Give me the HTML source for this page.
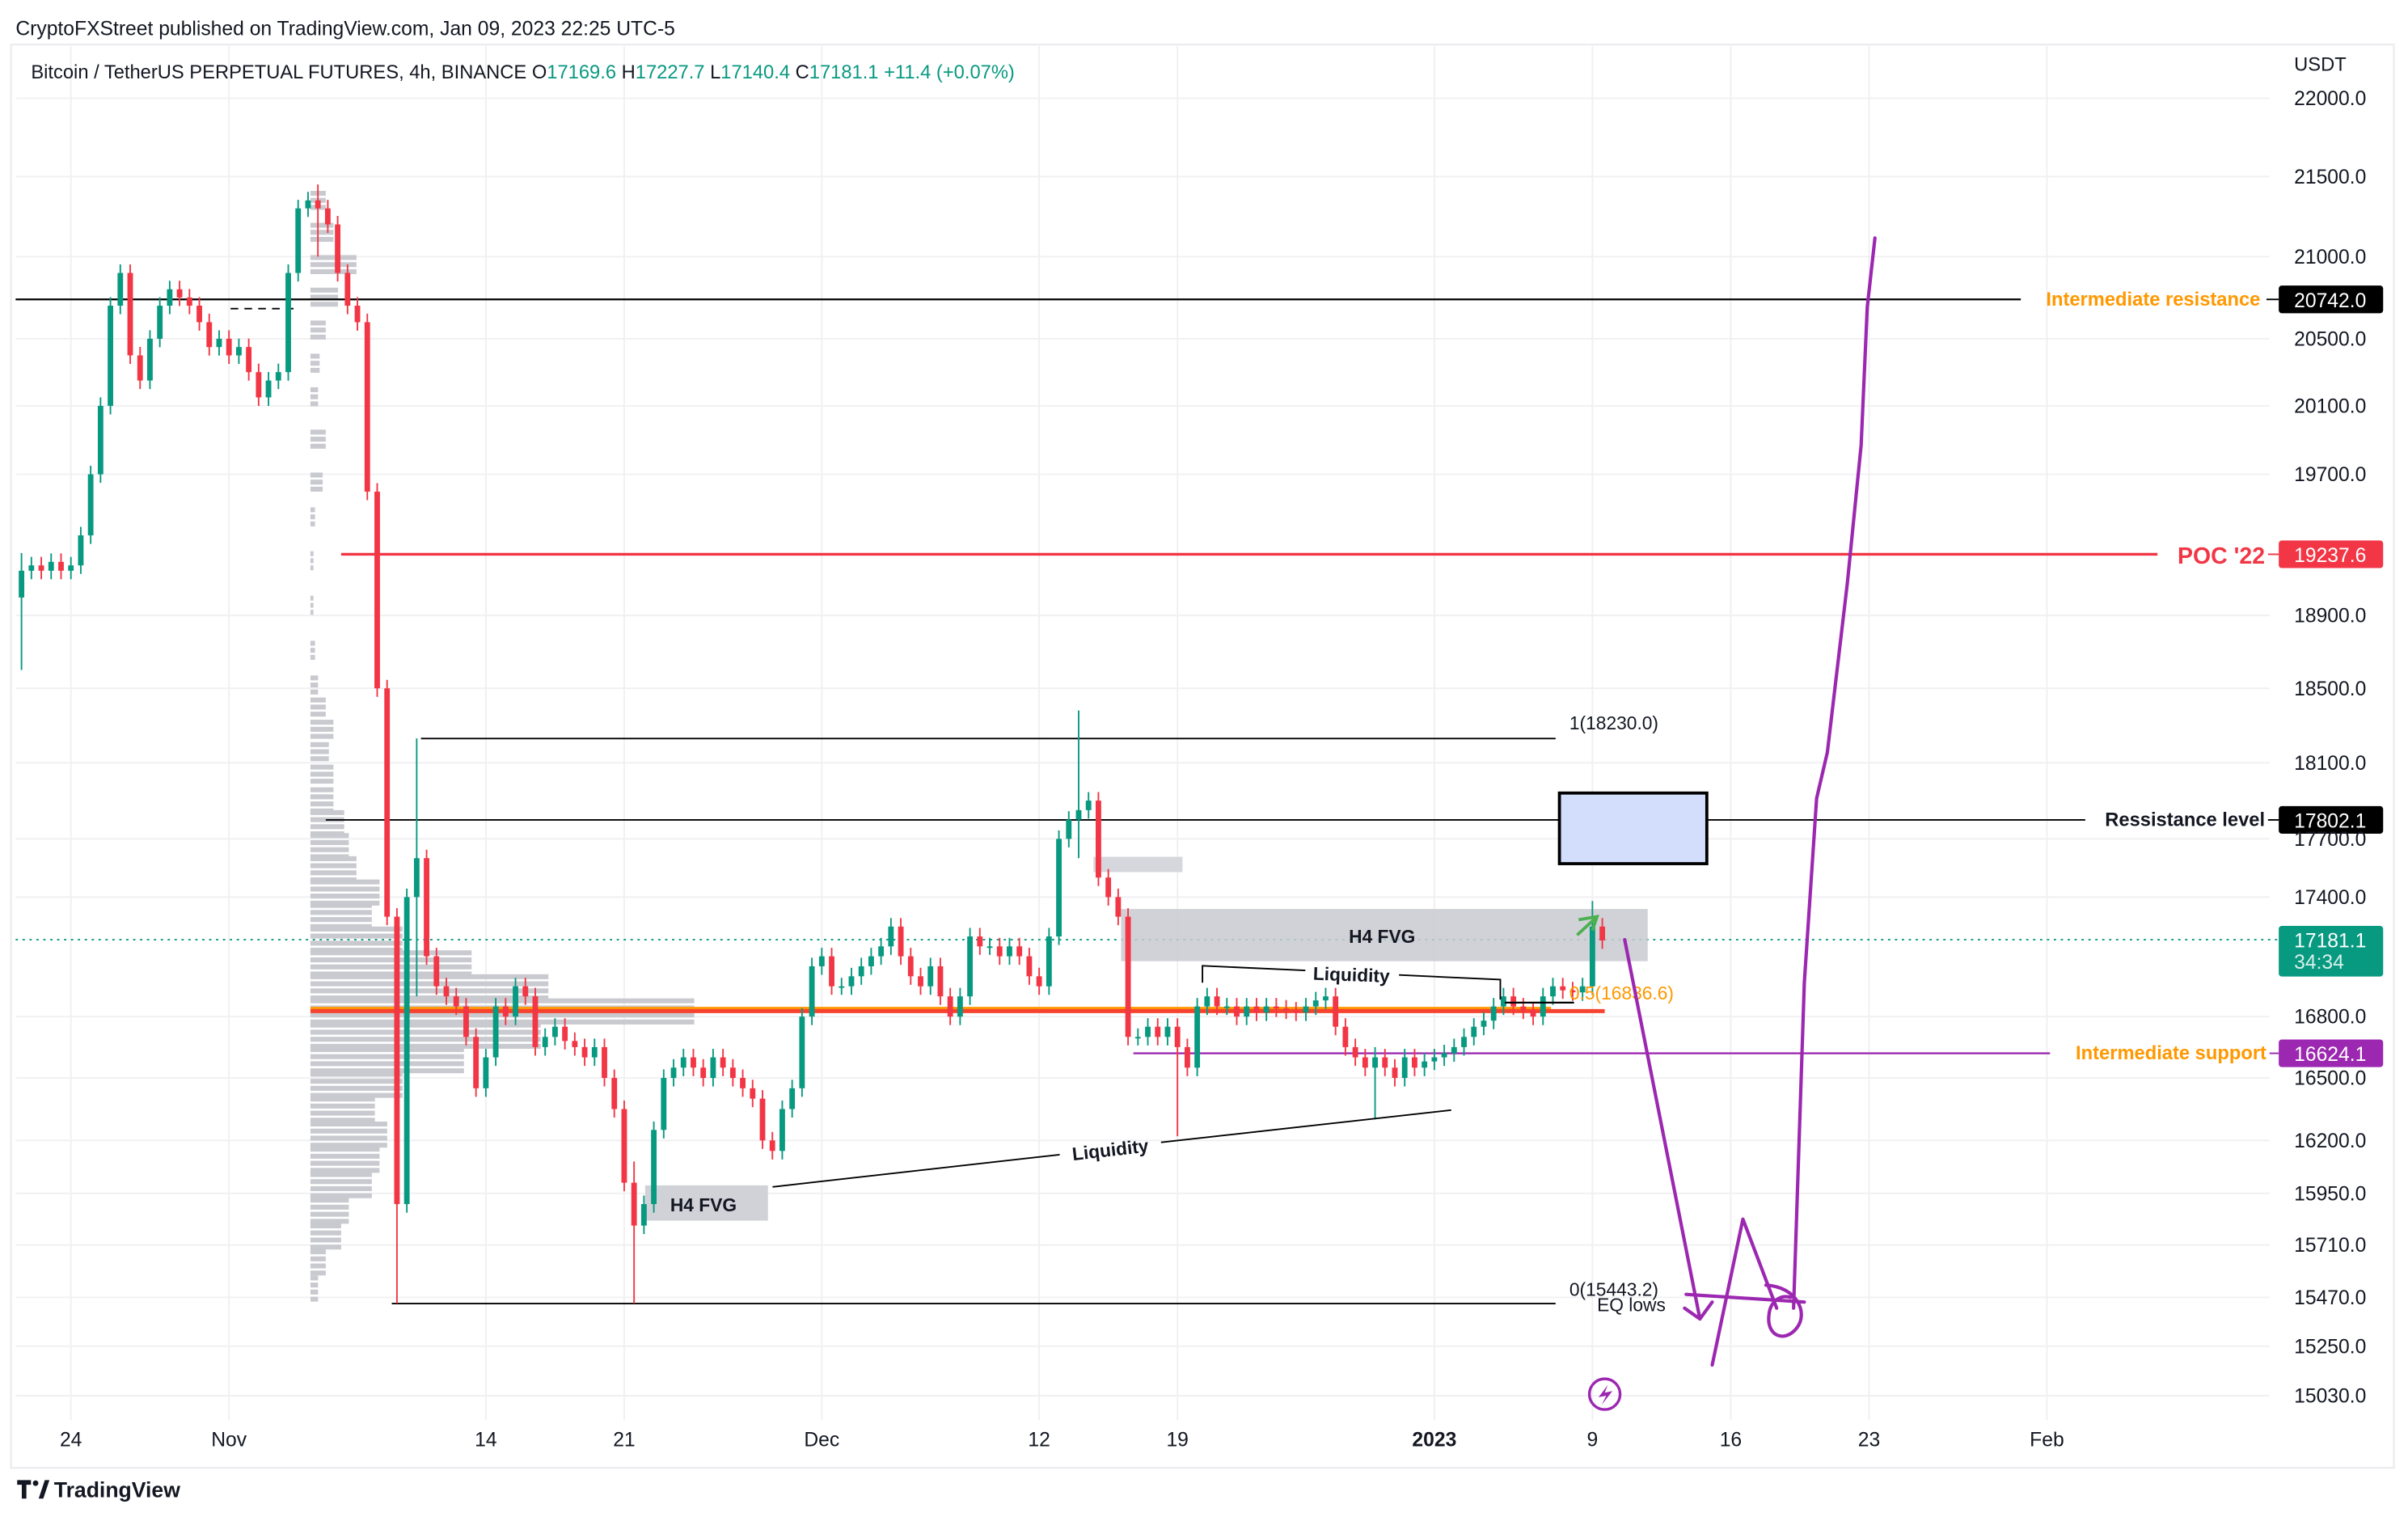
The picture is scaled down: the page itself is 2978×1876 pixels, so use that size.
<!DOCTYPE html>
<html><head><meta charset="utf-8"><style>
html,body{margin:0;padding:0;background:#fff;}
svg{display:block;font-family:"Liberation Sans",sans-serif;}
</style></head><body>
<svg id="chart" width="2978" height="1876" viewBox="0 0 1568 988" xmlns="http://www.w3.org/2000/svg">
<rect x="0" y="0" width="1568" height="988" fill="#fff"/>
<text x="10" y="23" font-size="13" fill="#131722">CryptoFXStreet published on TradingView.com, Jan 09, 2023 22:25 UTC-5</text>
<rect x="7" y="29" width="1552" height="927" fill="none" stroke="#ececf0" stroke-width="1.2"/>
<g id="grid"></g>
<g id="profile"></g>
<g id="levels"></g>
<g id="candles"></g>
<g id="annot"></g>
<g id="axis"></g>
<text x="20" y="51" font-size="12.5" fill="#131722">Bitcoin / TetherUS PERPETUAL FUTURES, 4h, BINANCE  O<tspan fill="#089981">17169.6</tspan>  H<tspan fill="#089981">17227.7</tspan>  L<tspan fill="#089981">17140.4</tspan>  C<tspan fill="#089981">17181.1  +11.4 (+0.07%)</tspan></text>
<g>
<path d="M11 964h9v3h-3v9h-3v-9h-3z" fill="#131722"/><circle cx="23" cy="966" r="1.8" fill="#131722"/><path d="M25 976l4-12h3l-4 12z" fill="#131722"/>
<text x="35" y="975" font-size="14" font-weight="bold" fill="#131722">TradingView</text></g>
</svg>
<script>
const NS='http://www.w3.org/2000/svg';
// ---- data ----
const closes=[19150,
19180,19150,19200,19150,19180,19350,19700,20100,20700,20900,20400,20250,20500,20700,20800,20750,20700,20600,20450,20500,
20400,20450,20300,20150,20250,20300,20900,21300,21350,21300,21200,20900,20700,20600,19600,18500,17300,15900,17400,17600,
17100,16950,16900,16850,16700,16450,16600,16850,16800,16950,16900,16650,16700,16750,16680,16650,16600,16650,16500,16350,
16000,15800,15900,16250,16500,16550,16600,16550,16500,16600,16550,16500,16450,16400,16200,16150,16350,16450,16800,17050,
17100,16950,16950,17000,17050,17100,17150,17250,17100,17000,16950,17050,16900,16800,16900,17200,17150,17150,17100,17150,
17100,17000,16950,17200,17700,17800,17850,17900,17500,17400,17300,16700,16700,16750,16700,16750,16650,16550,16850,16900,
16850,16850,16800,16850,16820,16850,16840,16830,16820,16850,16880,16900,16750,16650,16600,16550,16600,16550,16500,16600,
16550,16580,16600,16620,16650,16700,16750,16780,16850,16900,16850,16830,16800,16900,16950,16930,16920,16950,17250,17180];
const firstOpen=19000;
const extremeIdx=[0,30,38,40,62,107,117,137,159];
const extremeHigh=[19250,21450,17000,18230,16100,18380,16700,16650,17380];
const extremeLow=[18600,21000,15443,16900,15443,17600,16220,16300,16950];
const profilePrices=[15510,15630,15750,15870,15990,16110,16230,16350,16470,16590,16710,16830,16950,17070,17190,17310,17430,17550,17670,17790,17910,18030,18150,18270,18390,18510,18700,18950,19200,19450,19650,19900,20150,20350,20550,20750,20950,21150,21350];
const profileWidths=[5,10,20,25,40,45,50,42,60,100,150,250,155,105,60,40,45,30,25,22,15,15,12,15,10,5,3,2,2,3,8,10,5,6,10,18,30,15,10];
const priceTicks=[22000,21500,21000,20500,20100,19700,18900,18500,18100,17700,17400,16800,16500,16200,15950,15710,15470,15250,15030];
const dateLabels=['24','Nov','14','21','Dec','12','19','2023','9','16','23','Feb'];
const dateDays=[0,8,21,28,38,49,56,69,77,84,91,100];
// ---- axes ----
const yTop=64,yBot=909,pTop=22000,pBot=15030;
function Y(p){return yTop+Math.log(pTop/p)/Math.log(pTop/pBot)*(yBot-yTop);}
function X(day){return 46+day*12.87;}
function idxDay(i){return -2.5+i*0.5;}
function mk(tag,attrs,parent,txt){const e=document.createElementNS(NS,tag);for(const k in attrs)e.setAttribute(k,attrs[k]);if(txt!==undefined)e.textContent=txt;document.getElementById(parent).appendChild(e);return e;}
priceTicks.forEach(p=>{
  const g=mk('line',{x1:10,x2:1478,y1:Y(p),y2:Y(p),stroke:'#f0f0f3','stroke-width':1},'grid');
  
  
  const t=mk('text',{x:1494,y:Y(p)+4.5,'font-size':13,fill:'#131722'},'axis',p.toFixed(1));
  
  
});
dateLabels.forEach((d,k)=>{
  const x=X(dateDays[k]);
  const g=mk('line',{x1:x,x2:x,y1:30,y2:925,stroke:'#f0f0f3','stroke-width':1},'grid');
  
  
  const t=mk('text',{x:x,y:942,'font-size':13,fill:'#131722','text-anchor':'middle','font-weight':d==='2023'?'bold':'normal'},'axis',d);
  
  
});
const u=mk('text',{x:1494,y:46,'font-size':12.5,fill:'#131722'},'axis','USDT');


// volume profile: each bin drawn as thin stacked bars
profilePrices.forEach((p,k)=>{
  const y1=Y(p+60),y2=Y(p-60);
  for(let yy=y1;yy<y2-1;yy+=4.6){
    const r=mk('rect',{x:202,y:yy,width:profileWidths[k],height:3.2,fill:'#c9cad0'},'profile');
    
    
  }
});
let prev=firstOpen;
closes.forEach((c,i)=>{
  const o=prev;prev=c;
  const up=c>=o,col=up?'#089981':'#f23645';
  let hi=Math.max(o,c)*1.0025,lo=Math.min(o,c)*0.9975;
  const e=extremeIdx.indexOf(i);
  if(e>=0){hi=Math.max(hi,extremeHigh[e]);lo=Math.min(lo,extremeLow[e]);}
  const x=X(idxDay(i));
  const w=mk('line',{x1:x,x2:x,y1:Y(hi),y2:Y(lo),stroke:col,'stroke-width':1},'candles');
  
  
  const yb=Math.min(Y(o),Y(c)),hb=Math.max(1,Math.abs(Y(o)-Y(c)));
  const b=mk('rect',{x:x-1.8,y:yb,width:3.6,height:hb,fill:col},'candles');
  
  
});
</script>
<script>
function A(html){document.getElementById('annot').insertAdjacentHTML('beforeend',html);}
function L(html){document.getElementById('levels').insertAdjacentHTML('beforeend',html);}
L(`<line x1="10" x2="1316" y1="195" y2="195" stroke="#000" stroke-width="1.2"/>
<line x1="150" x2="195" y1="201" y2="201" stroke="#000" stroke-dasharray="5,4"/>
<line x1="222" x2="1405" y1="361" y2="361" stroke="#f23645" stroke-width="1.8"/>
<line x1="274" x2="1013" y1="481" y2="481" stroke="#000" stroke-width="1"/>
<line x1="255" x2="1013" y1="849" y2="849" stroke="#000" stroke-width="1"/>
<line x1="212" x2="1358" y1="534" y2="534" stroke="#000" stroke-width="1"/>
<line x1="10" x2="1484" y1="612" y2="612" stroke="#089981" stroke-width="1" stroke-dasharray="1.5,3"/>
<rect x="730" y="592" width="343" height="34" fill="#c9cad0" opacity="0.85"/>
<rect x="712" y="558" width="58" height="10" fill="#d6d7dc"/>
<rect x="420" y="772" width="80" height="23" fill="#d1d2d7"/>
<rect x="1015.5" y="516.5" width="96" height="46" fill="#d2defc" stroke="#000" stroke-width="2"/>
<line x1="202" x2="1010" y1="656.5" y2="656.5" stroke="#ff9800" stroke-width="1.5"/>
<line x1="202" x2="1045" y1="658.5" y2="658.5" stroke="#f5432f" stroke-width="2.6"/>
<line x1="738" x2="1335" y1="686" y2="686" stroke="#9c27b0" stroke-width="1.2"/>`);
A(`<text x="900" y="614" font-size="12" font-weight="bold" text-anchor="middle" fill="#131722">H4 FVG</text>
<text x="458" y="789" font-size="12" font-weight="bold" text-anchor="middle" fill="#131722">H4 FVG</text>
<text x="1022" y="475" font-size="12" fill="#131722">1(18230.0)</text>
<text x="1022" y="844" font-size="12" fill="#131722">0(15443.2)</text>
<text x="1040" y="854" font-size="12" fill="#131722">EQ lows</text>
<text x="1022" y="651" font-size="12" fill="#ff9800">0.5(16836.6)</text>
<polyline points="783,640 783,629 850,632" fill="none" stroke="#000" stroke-width="1"/>
<polyline points="911,635 977,638 977,651" fill="none" stroke="#000" stroke-width="1"/>
<text x="880" y="639" font-size="12" font-weight="bold" text-anchor="middle" fill="#131722" transform="rotate(2 880 635)">Liquidity</text>
<line x1="503" y1="773" x2="690" y2="752" stroke="#000" stroke-width="1"/>
<line x1="756" y1="744" x2="945" y2="723" stroke="#000" stroke-width="1"/>
<text x="723" y="753" font-size="12" font-weight="bold" text-anchor="middle" fill="#131722" transform="rotate(-6.5 723 749)">Liquidity</text>
<line x1="980" x2="1025" y1="653" y2="653" stroke="#000" stroke-width="1.2"/>
<polyline points="1027,609 1040,597" fill="none" stroke="#4caf50" stroke-width="2"/>
<polyline points="1028,599 1040,597 1037,606" fill="none" stroke="#4caf50" stroke-width="2"/>
<g fill="none" stroke="#9c27b0" stroke-width="2.2" stroke-linecap="round" stroke-linejoin="round">
<path d="M1058,612 L1107,859"/>
<path d="M1097,852 L1107,859 L1115,848"/>
<path d="M1115,889 L1135,794 L1157,852"/>
<path d="M1098,843 L1175,848"/>
<path d="M1150,837 C1170,838 1178,855 1170,865 C1162,875 1150,870 1152,856 C1153,847 1160,843 1166,845"/>
<path d="M1168,852 L1175,640 L1183,520 L1190,490 L1203,380 L1212,290 L1216,200 L1221,155"/>
</g>
<g><circle cx="1045" cy="908" r="10" fill="none" stroke="#9c27b0" stroke-width="1.8"/><path d="M1047,902 L1041,910 L1046,909 L1043,915 L1050,906 L1045,907 Z" fill="#9c27b0"/></g>`);
A(`<text x="1472" y="199" font-size="12.5" font-weight="bold" text-anchor="end" fill="#ff9800">Intermediate resistance</text>
<line x1="1476" x2="1484" y1="195" y2="195" stroke="#000"/>
<rect x="1484" y="186" width="68" height="18" rx="2" fill="#000"/>
<text x="1494" y="200" font-size="13" fill="#fff">20742.0</text>
<text x="1475" y="367" font-size="15" font-weight="bold" text-anchor="end" fill="#f23645">POC '22</text>
<line x1="1477" x2="1484" y1="361" y2="361" stroke="#f23645"/>
<rect x="1484" y="352" width="68" height="18" rx="2" fill="#f23645"/>
<text x="1494" y="366" font-size="13" fill="#fff">19237.6</text>
<text x="1475" y="538" font-size="12.5" font-weight="bold" text-anchor="end" fill="#131722">Ressistance level</text>
<line x1="1477" x2="1484" y1="534" y2="534" stroke="#000"/>
<rect x="1484" y="525" width="68" height="18" rx="2" fill="#000"/>
<text x="1494" y="539" font-size="13" fill="#fff">17802.1</text>
<rect x="1484" y="603" width="68" height="33" rx="2" fill="#089981"/>
<text x="1494" y="617" font-size="13" fill="#fff">17181.1</text>
<text x="1494" y="631" font-size="13" fill="#d6f0ea">34:34</text>
<text x="1476" y="690" font-size="12.5" font-weight="bold" text-anchor="end" fill="#ff9800">Intermediate support</text>
<line x1="1478" x2="1484" y1="686" y2="686" stroke="#9c27b0"/>
<rect x="1484" y="677" width="68" height="18" rx="2" fill="#9c27b0"/>
<text x="1494" y="691" font-size="13" fill="#fff">16624.1</text>`);
</script>
</body></html>
